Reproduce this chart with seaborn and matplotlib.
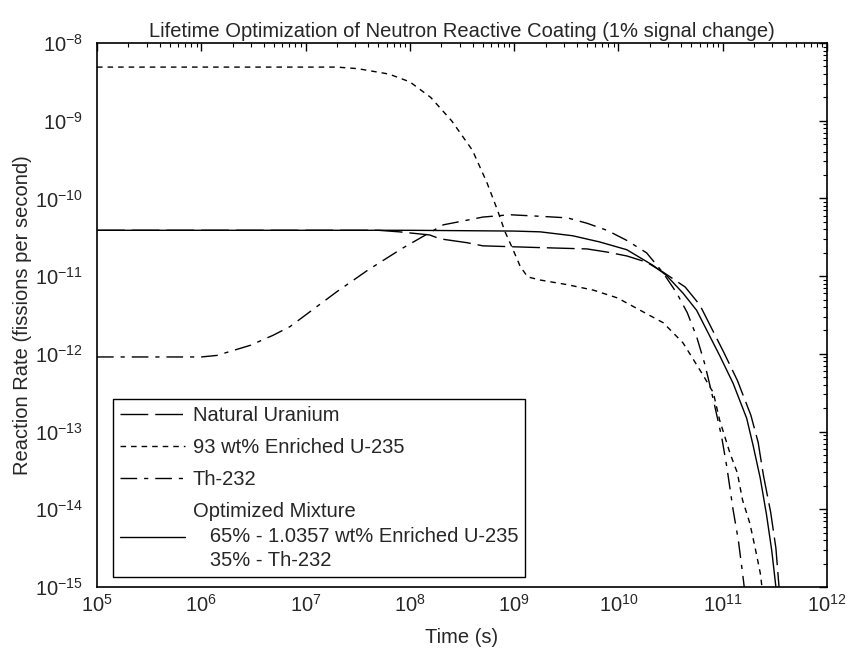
import numpy as np
import pandas as pd
import matplotlib
matplotlib.use('Agg')
import matplotlib.pyplot as plt
import seaborn as sns

# values, as log10(time [s]) and log10(rate [fissions/s])
nat_logt = [5.0, 6.0, 7.0, 7.7, 7.9, 8.19, 8.29, 8.55, 8.7, 9.18, 9.44, 9.7, 9.89, 10.08,
            10.27, 10.43, 10.64, 10.78, 11.01, 11.14, 11.27, 11.34, 11.39, 11.46, 11.51, 11.54]
nat_logr = [-10.41, -10.41, -10.41, -10.41, -10.43, -10.47, -10.52, -10.57, -10.61, -10.63, -10.64, -10.65, -10.69, -10.74,
            -10.82, -10.95, -11.14, -11.37, -11.98, -12.34, -12.79, -13.14, -13.56, -14.04, -14.5, -15.0]

enr_logt = [5.0, 6.0, 7.0, 7.3, 7.5, 7.8, 8.0, 8.2, 8.4, 8.6, 8.74, 8.84, 8.91, 8.98, 9.06, 9.13,
            9.25, 9.51, 9.76, 9.99, 10.21, 10.43, 10.62, 10.81, 10.91, 10.97, 11.07, 11.14, 11.19,
            11.26, 11.31, 11.36, 11.38]
enr_logr = [-8.31, -8.31, -8.31, -8.31, -8.33, -8.4, -8.5, -8.7, -9.0, -9.38, -9.8, -10.15, -10.42, -10.63, -10.88, -11.01,
            -11.05, -11.11, -11.18, -11.28, -11.44, -11.6, -11.86, -12.27, -12.5, -12.85, -13.28, -13.53, -13.88,
            -14.18, -14.49, -14.82, -15.04]

th_logt = [5.0, 5.5, 6.0, 6.15, 6.47, 6.69, 6.85, 7.0, 7.3, 7.6, 7.93, 8.32, 8.7, 8.96, 9.25, 9.51,
           9.7, 9.89, 10.08, 10.27, 10.43, 10.56, 10.66, 10.75, 10.83, 10.91, 10.99, 11.04, 11.1,
           11.15, 11.19, 11.21]
th_logr = [-12.04, -12.04, -12.04, -12.02, -11.89, -11.76, -11.65, -11.5, -11.2, -10.92, -10.64, -10.34, -10.24, -10.21, -10.23, -10.25,
           -10.32, -10.41, -10.54, -10.7, -10.96, -11.22, -11.47, -11.78, -12.14, -12.59, -13.07, -13.46, -14.01,
           -14.4, -14.82, -15.04]

mix_logt = [5.0, 6.0, 7.0, 8.0, 9.0, 9.25, 9.56, 9.82, 10.08, 10.33, 10.46, 10.62, 10.75, 10.97,
            11.1, 11.23, 11.29, 11.36, 11.42, 11.47, 11.51]
mix_logr = [-10.41, -10.41, -10.41, -10.41, -10.42, -10.43, -10.48, -10.56, -10.66, -10.86, -10.99, -11.22, -11.44, -12.02,
            -12.38, -12.83, -13.17, -13.6, -14.07, -14.53, -15.0]

labels = ['Natural Uranium',
          '93 wt% Enriched U-235',
          'Th-232',
          'Optimized Mixture\n   65% - 1.0357 wt% Enriched U-235\n   35% - Th-232']

series = [(nat_logt, nat_logr), (enr_logt, enr_logr), (th_logt, th_logr), (mix_logt, mix_logr)]
styles = [(0, (20, 5)), (0, (4, 3.6)), (0, (12, 5, 3, 5)), '-']

sns.set_style('white')
plt.rcParams['font.family'] = ['Liberation Sans', 'DejaVu Sans']
plt.rcParams['mathtext.fontset'] = 'custom'
plt.rcParams['mathtext.rm'] = 'Liberation Sans'
fs = 14.5

fig = plt.figure(figsize=(8.48, 6.56), dpi=100)
ax = fig.add_axes([97 / 848, 1 - 587 / 656, 730 / 848, 544 / 656])

for (lt, lr), lab, ls in zip(series, labels, styles):
    df = pd.DataFrame({'t': 10 ** np.array(lt), 'r': 10 ** np.array(lr)})
    sns.lineplot(data=df, x='t', y='r', ax=ax, color='black', linewidth=1.0,
                 linestyle=ls, label=lab, sort=False, estimator=None)

ax.set_xscale('log')
ax.set_yscale('log')
ax.set_xlim(1e5, 1e12)
ax.set_ylim(1e-15, 1e-8)
ax.set_xticks([10.0 ** k for k in range(5, 13)])
ax.set_yticks([10.0 ** k for k in range(-15, -7)])
ax.tick_params(which='both', direction='in', top=True, right=True, color='black', labelsize=fs)
ax.tick_params(which='major', length=6, width=1)
ax.tick_params(which='minor', length=3, width=0.8)
ax.tick_params(axis='y', which='major', pad=10)
ax.tick_params(axis='x', which='major', pad=5)
for s in ax.spines.values():
    s.set_color('black')
    s.set_linewidth(1.2)

ax.set_title('Lifetime Optimization of Neutron Reactive Coating (1% signal change)', fontsize=fs, pad=4)
ax.set_xlabel('Time (s)', fontsize=fs, labelpad=9)
ax.set_ylabel('Reaction Rate (fissions per second)', fontsize=fs, labelpad=2)

leg = ax.legend(loc='lower left', bbox_to_anchor=(0.022, 0.018), borderaxespad=0,
                fancybox=False, edgecolor='black', framealpha=1, fontsize=fs,
                handlelength=3.2, handletextpad=0.4, labelspacing=0.65, borderpad=0.35)
leg.get_frame().set_linewidth(1.0)
for txt in leg.get_texts():
    txt.set_linespacing(1.36)

fig.savefig('out.png', dpi=100)
